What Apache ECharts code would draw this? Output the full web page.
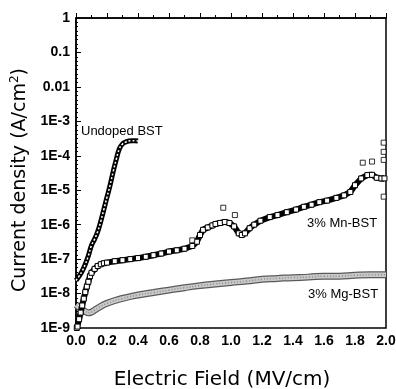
<!DOCTYPE html>
<html><head><meta charset="utf-8">
<script src="https://cdn.jsdelivr.net/npm/echarts@6/dist/echarts.min.js"></script>
<style>html,body{margin:0;padding:0;background:#fff}#c{width:396px;height:389px}</style>
</head><body><div id="c"></div>
<script>
// Electric field (MV/cm) and current density (A/cm^2)
const undopedE = [0.00,0.02,0.04,0.06,0.08,0.10,0.12,0.14,0.16,0.18,0.20,0.22,0.24,0.26,0.28,0.30,0.32,0.34,0.36,0.38,0.40];
const undopedJ = [2.4e-8,3.2e-8,4.5e-8,7.1e-8,1.26e-7,2.5e-7,3.8e-7,6.3e-7,1.26e-6,2.8e-6,6.3e-6,1.4e-5,3.5e-5,7.9e-5,1.6e-4,2.2e-4,2.5e-4,2.7e-4,2.75e-4,2.75e-4,2.7e-4];

const mnE = [0.005,0.01,0.02,0.03,0.04,0.05,0.06,0.07,0.08,0.09,0.10,0.12,0.14,0.16,0.18,0.20,0.25,0.30,0.35,0.40,0.45,0.50,0.55,0.60,0.65,0.70,0.75,0.78,0.80,0.82,0.85,0.88,0.90,0.93,0.96,0.99,1.02,1.05,1.07,1.09,1.12,1.15,1.19,1.25,1.30,1.36,1.42,1.47,1.52,1.57,1.62,1.68,1.73,1.77,1.80,1.84,1.88,1.91,1.94,1.97,1.99];
const mnJ = [1.0e-9,1.1e-9,1.8e-9,2.8e-9,4.5e-9,7.1e-9,1.1e-8,1.6e-8,2.2e-8,3.2e-8,4.0e-8,5.2e-8,6.3e-8,7.1e-8,7.6e-8,7.9e-8,8.7e-8,9.3e-8,1.0e-7,1.07e-7,1.17e-7,1.3e-7,1.45e-7,1.66e-7,1.8e-7,2.0e-7,2.4e-7,3.2e-7,5.0e-7,7.1e-7,8.3e-7,9.5e-7,1.05e-6,1.12e-6,1.2e-6,1.12e-6,8.9e-7,5.6e-7,5.0e-7,5.6e-7,7.9e-7,1.0e-6,1.3e-6,1.66e-6,1.9e-6,2.3e-6,2.75e-6,3.3e-6,3.8e-6,4.5e-6,5.0e-6,6.0e-6,7.1e-6,8.9e-6,1.4e-5,2.2e-5,2.75e-5,2.8e-5,2.3e-5,2.2e-5,2.2e-5];
const mnOutE = [0.75,0.95,1.025,1.85,1.91,1.985,1.985,1.985,1.985];
const mnOutJ = [3.5e-7,3.1e-6,1.9e-6,6.3e-5,6.8e-5,2.4e-4,1.3e-4,7.6e-5,6.5e-6];

const mgE = [0.00,0.02,0.04,0.06,0.08,0.10,0.12,0.15,0.20,0.30,0.40,0.50,0.60,0.70,0.80,0.90,1.00,1.10,1.20,1.30,1.40,1.50,1.60,1.70,1.80,1.90,2.00];
const mgJ = [4.7e-9,4.0e-9,3.4e-9,3.0e-9,2.75e-9,2.9e-9,3.3e-9,4.0e-9,5.2e-9,7.2e-9,9.1e-9,1.07e-8,1.26e-8,1.48e-8,1.7e-8,1.9e-8,2.1e-8,2.3e-8,2.6e-8,2.75e-8,2.9e-8,3.0e-8,3.2e-8,3.2e-8,3.4e-8,3.5e-8,3.5e-8];

const yTickLabels = ['1E-9','1E-8','1E-7','1E-6','1E-5','1E-4','1E-3','0.01','0.1','1'];
const xTickLabels = ['0.0','0.2','0.4','0.6','0.8','1.0','1.2','1.4','1.6','1.8','2.0'];
const seriesNames = ['Undoped BST','3% Mn-BST','3% Mg-BST'];

const zip = (a,b) => a.map((v,i)=>[v,b[i]]);

const chart = echarts.init(document.getElementById('c'), null, {renderer:'canvas'});
const lblFont = {fontFamily:'Liberation Sans, Arial, sans-serif', fontWeight:'bold', fontSize:14, color:'#000'};
chart.setOption({
  animation:false,
  backgroundColor:'#fff',
  grid:{left:76,right:10,top:18,bottom:61,outerBoundsMode:'none',containLabel:false,show:true,borderColor:'#000',borderWidth:1.5,backgroundColor:'transparent'},
  xAxis:{type:'value',min:0,max:2,interval:0.2,
    axisLine:{show:true,lineStyle:{color:'#000',width:1.5}},
    axisTick:{show:true,inside:true,length:5,lineStyle:{color:'#000'}},
    minorTick:{show:true,splitNumber:2,length:3,lineStyle:{color:'#000'}},
    splitLine:{show:false},
    axisLabel:Object.assign({margin:6,formatter:(v)=>{const i=Math.round(v/0.2);return xTickLabels[i]??'';}},lblFont),
    name:'Electric Field (MV/cm)',nameLocation:'middle',nameGap:42,
    nameTextStyle:{fontFamily:'DejaVu Sans, sans-serif',fontSize:20,color:'#000',padding:[0,18,0,0]}
  },
  yAxis:[{type:'log',logBase:10,min:1e-9,max:1,interval:1,
    axisLine:{show:true,lineStyle:{color:'#000',width:1.5}},
    axisTick:{show:true,inside:true,length:5,lineStyle:{color:'#000'}},
    splitLine:{show:false},
    axisLabel:Object.assign({margin:6,formatter:(v)=>{const e=Math.round(Math.log10(v));return yTickLabels[e+9]??'';}},lblFont),
    name:'Current density (A/cm{sup|2})',nameLocation:'middle',nameGap:42,nameRotate:90,
    nameTextStyle:{fontFamily:'DejaVu Sans, sans-serif',fontSize:19,color:'#000',padding:[0,14,0,0],
      rich:{sup:{fontFamily:'DejaVu Sans, sans-serif',fontSize:12,color:'#000',verticalAlign:'top',padding:[0,0,10,0]}}}
  },{type:'value',min:-9,max:0,interval:1,position:'left',
    axisLine:{show:false},axisLabel:{show:false},
    axisTick:{show:false,inside:true},
    minorTick:{show:true,splitNumber:8,length:2,lineStyle:{color:'#000'}},
    splitLine:{show:false}}],
  series:[
    {name:seriesNames[2],type:'line',data:zip(mgE,mgJ),showSymbol:false,smooth:true,
      lineStyle:{color:'#5a5a5a',width:7},z:2},
    {name:seriesNames[2],type:'line',data:zip(mgE,mgJ),showSymbol:false,smooth:true,
      lineStyle:{color:'#c9c9c9',width:4.5},z:3},
    {name:seriesNames[2],type:'line',data:zip(mgE,mgJ),showSymbol:false,smooth:true,
      lineStyle:{color:'#8a8a8a',width:1.5,type:[1,2]},z:4},
    {name:seriesNames[0],type:'line',data:zip(undopedE,undopedJ),showSymbol:false,smooth:true,
      lineStyle:{color:'#000',width:5},z:5},
    {name:seriesNames[0],type:'line',data:zip(undopedE,undopedJ),showSymbol:false,smooth:true,
      lineStyle:{color:'#fff',width:1.5,type:[2,2]},z:6},
    {name:seriesNames[1],type:'line',data:zip(mnE,mnJ),smooth:false,
      symbol:'rect',symbolSize:5,showAllSymbol:true,
      itemStyle:{color:'#fff',borderColor:'#000',borderWidth:1},
      lineStyle:{color:'#000',width:6},z:7},
    {name:seriesNames[1],type:'scatter',data:zip(mnOutE,mnOutJ),
      symbol:'rect',symbolSize:5,
      itemStyle:{color:'#fff',borderColor:'#000',borderWidth:1},z:8}
  ],
  graphic:[
    {type:'text',left:81,top:125,style:{text:seriesNames[0],fontFamily:'Liberation Sans, Arial, sans-serif',fontSize:13,fill:'#000'}},
    {type:'text',left:307,top:217,style:{text:seriesNames[1],fontFamily:'Liberation Sans, Arial, sans-serif',fontSize:13,fill:'#000'}},
    {type:'text',left:308,top:288,style:{text:seriesNames[2],fontFamily:'Liberation Sans, Arial, sans-serif',fontSize:13,fill:'#000'}}
  ]
});
</script></body></html>
